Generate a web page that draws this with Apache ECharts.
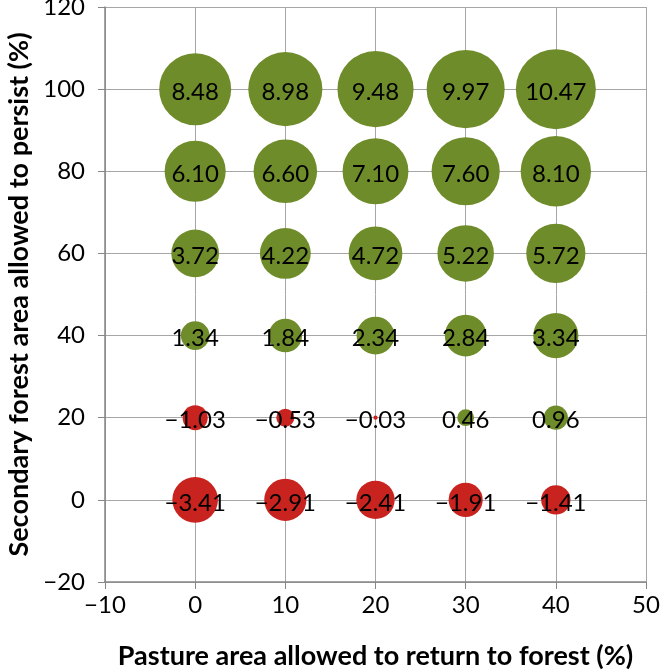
<!DOCTYPE html>
<html>
<head>
<meta charset="utf-8">
<script src="https://cdn.jsdelivr.net/npm/echarts@6/dist/echarts.min.js"></script>
<style>
  html, body { margin: 0; padding: 0; background: #fff; }
  #main { width: 660px; height: 671px; }
</style>
</head>
<body>
<div id="main"></div>
<script>
// pasture area returned to forest (%) -> x
var pasture = [0, 10, 20, 30, 40];
// secondary forest allowed to persist (%) -> y
var secondary = [0, 20, 40, 60, 80, 100];
// bubble values, one row per secondary-forest level
var row0 = [-3.41, -2.91, -2.41, -1.91, -1.41];
var row20 = [-1.03, -0.53, -0.03, 0.46, 0.96];
var row40 = [1.34, 1.84, 2.34, 2.84, 3.34];
var row60 = [3.72, 4.22, 4.72, 5.22, 5.72];
var row80 = [6.10, 6.60, 7.10, 7.60, 8.10];
var row100 = [8.48, 8.98, 9.48, 9.97, 10.47];
var rows = [row0, row20, row40, row60, row80, row100];

var green = '#6f8c2a';
var red = '#c8231e';

var points = [];
rows.forEach(function (row, i) {
  row.forEach(function (v, j) {
    points.push([pasture[j], secondary[i], v]);
  });
});

function minus(s) { return String(s).replace('-', '\u2212'); }

var chart = echarts.init(document.getElementById('main'));
chart.setOption({
  animation: false,
  textStyle: { fontFamily: 'Lato' },
  grid: { left: 105, right: 14, top: 7, bottom: 89, outerBoundsMode: 'none' },
  xAxis: {
    type: 'value',
    min: -10, max: 50, interval: 10,
    name: 'Pasture area allowed to return to forest (%)',
    nameLocation: 'middle',
    nameGap: 61,
    nameTextStyle: { fontSize: 27, fontWeight: 'bold', color: '#000', fontFamily: 'Lato' },
    axisLine: { onZero: false, lineStyle: { color: '#868686', width: 1.5 } },
    axisTick: { show: true, length: 7, lineStyle: { color: '#868686' } },
    axisLabel: { fontSize: 24, color: '#000', margin: 11, formatter: minus },
    splitLine: { lineStyle: { color: '#a6a6a6', width: 1 } }
  },
  yAxis: {
    type: 'value',
    min: -20, max: 120, interval: 20,
    name: 'Secondary forest area allowed to persist (%)',
    nameLocation: 'middle',
    nameGap: 72,
    nameTextStyle: { fontSize: 27, fontWeight: 'bold', color: '#000', fontFamily: 'Lato' },
    axisLine: { show: true, onZero: false, lineStyle: { color: '#868686', width: 1.5 } },
    axisTick: { show: true, length: 7, lineStyle: { color: '#868686' } },
    axisLabel: { fontSize: 24, color: '#000', margin: 20, formatter: minus },
    splitLine: { lineStyle: { color: '#a6a6a6', width: 1 } }
  },
  series: [{
    type: 'scatter',
    data: points,
    symbolSize: function (d) { return 80 * Math.sqrt(Math.abs(d[2]) / 10.47); },
    itemStyle: {
      opacity: 1,
      color: function (p) { return p.data[2] < 0 ? red : green; }
    },
    label: {
      show: true,
      position: 'inside',
      offset: [0, 3],
      fontSize: 24,
      color: '#000',
      formatter: function (p) { return minus(p.data[2].toFixed(2)); }
    }
  }]
});
</script>
</body>
</html>
